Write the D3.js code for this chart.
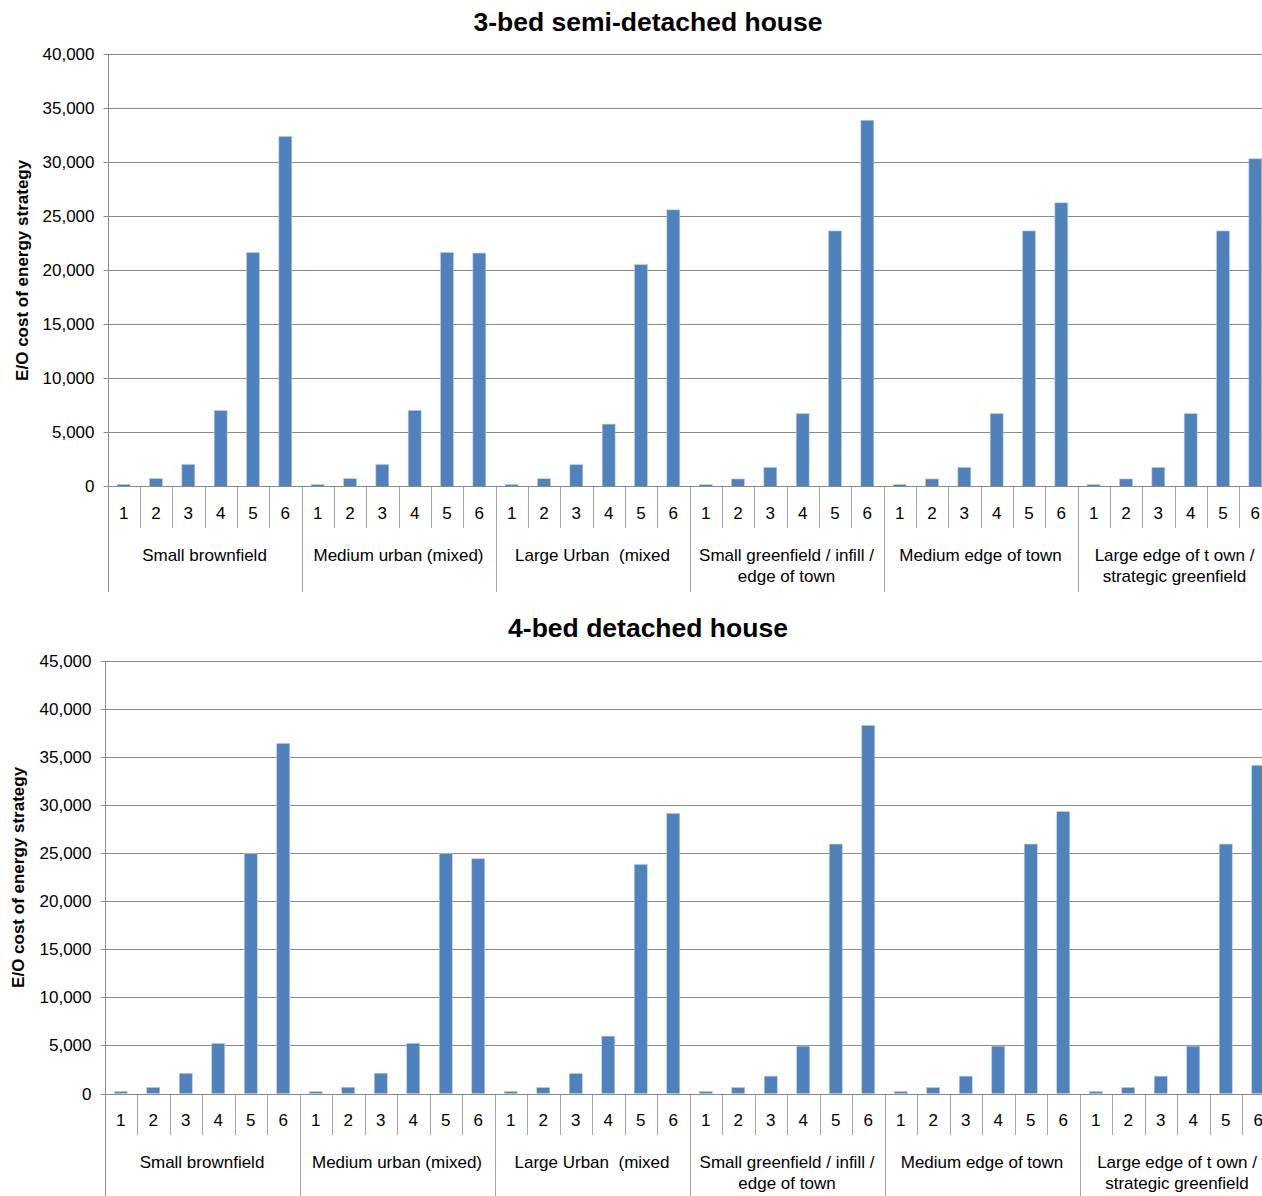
<!DOCTYPE html>
<html>
<head>
<meta charset="utf-8">
<script src="https://cdn.jsdelivr.net/npm/d3@7"></script>
<style>
  html, body { margin: 0; padding: 0; background: #fff; }
  svg { display: block; font-family: "Liberation Sans", Arial, sans-serif; }
  text { white-space: pre; }
</style>
</head>
<body>
<svg id="chart" width="1262" height="1196"></svg>
<script>
// Site typologies along the category axis (label lines as drawn under each group)
const categories = [
  "Small brownfield",
  "Medium urban (mixed)",
  "Large Urban  (mixed",
  "Small greenfield / infill / edge of town",
  "Medium edge of town",
  "Large edge of t own / strategic greenfield"
];
const categoryLines = [
  ["Small brownfield"],
  ["Medium urban (mixed)"],
  ["Large Urban  (mixed"],
  ["Small greenfield / infill /", "edge of town"],
  ["Medium edge of town"],
  ["Large edge of t own /", "strategic greenfield"]
];
// Energy strategy options within each typology
const strategies = ["1", "2", "3", "4", "5", "6"];

// Extra-over cost of energy strategy, 3-bed semi-detached house (one row per typology)
const semiDetached3Bed = [
  [170, 710, 2020, 7010, 21650, 32400],
  [160, 710, 2020, 7020, 21650, 21600],
  [155, 700, 2000, 5760, 20530, 25600],
  [155, 680, 1760, 6730, 23650, 33900],
  [155, 680, 1760, 6730, 23650, 26250],
  [155, 680, 1760, 6730, 23650, 30330]
];
// Extra-over cost of energy strategy, 4-bed detached house
const detached4Bed = [
  [210, 630, 2100, 5210, 25000, 36450],
  [190, 650, 2110, 5230, 25000, 24440],
  [208, 625, 2080, 5970, 23850, 29170],
  [208, 625, 1806, 4930, 25970, 38330],
  [208, 625, 1806, 4930, 25970, 29340],
  [208, 625, 1806, 4930, 25970, 34170]
];

// Y-axis tick values
const ticksSemi = [0, 5000, 10000, 15000, 20000, 25000, 30000, 35000, 40000];
const ticksDetached = [0, 5000, 10000, 15000, 20000, 25000, 30000, 35000, 40000, 45000];

const titles = ["3-bed semi-detached house", "4-bed detached house"];
const yLabel = "E/O cost of energy strategy";

const svg = d3.select("#chart");
svg.append("rect").attr("width", 1262).attr("height", 1196).attr("fill", "#fff");

const fmt = d3.format(",");

function drawPanel(opts) {
  const { values, ticks, title, left, right, top, bottom, titleY, labelX,
          numY, groupY, sepShortEnd, sepLongEnd } = opts;
  const g = svg.append("g");

  const x = d3.scaleBand().domain(categories).range([left, right]).padding(0);
  const xi = d3.scaleBand().domain(strategies).range([0, x.bandwidth()])
    .paddingInner(0.6).paddingOuter(0.3);
  const y = d3.scaleLinear().domain([0, d3.max(ticks)]).range([bottom, top]);

  // horizontal gridlines
  g.append("g").selectAll("line").data(ticks).join("line")
    .attr("x1", left).attr("x2", 1262)
    .attr("y1", d => Math.round(y(d)) + 0.5).attr("y2", d => Math.round(y(d)) + 0.5)
    .attr("stroke", "#8a8a8a").attr("stroke-width", 1);

  // value axis with outward tick marks
  const axis = g.append("g")
    .attr("transform", `translate(${Math.round(left) + 0.5},0)`)
    .call(d3.axisLeft(y).tickValues(ticks).tickFormat(fmt).tickSize(5).tickPadding(9));
  axis.select(".domain").remove();
  axis.selectAll(".tick").attr("transform", d => `translate(0,${Math.round(y(d)) + 0.5})`);
  axis.selectAll(".tick line").attr("stroke", "#8a8a8a");
  axis.selectAll(".tick text").attr("font-size", 17).attr("fill", "#000")
    .attr("font-family", "Liberation Sans, Arial, sans-serif");
  g.append("line")
    .attr("x1", Math.round(left) + 0.5).attr("x2", Math.round(left) + 0.5)
    .attr("y1", Math.round(y(d3.max(ticks)))).attr("y2", sepLongEnd)
    .attr("stroke", "#8a8a8a");

  // bars
  const bars = [];
  categories.forEach((c, ci) => strategies.forEach((s, si) => {
    bars.push({ c, s, v: values[ci][si] });
  }));
  g.append("g").selectAll("rect").data(bars).join("rect")
    .attr("x", d => x(d.c) + xi(d.s))
    .attr("width", xi.bandwidth())
    .attr("y", d => y(d.v))
    .attr("height", d => bottom - y(d.v))
    .attr("fill", "#4f81bd")
    .attr("stroke", "#b9cde5").attr("stroke-width", 0.6);

  // category axis: slot separators, group separators, labels
  const slotEdges = [];
  categories.forEach(c => strategies.forEach((s, si) => {
    if (si > 0) slotEdges.push(x(c) + si * xi.step());
  }));
  g.append("g").selectAll("line").data(slotEdges).join("line")
    .attr("x1", d => Math.round(d) + 0.5).attr("x2", d => Math.round(d) + 0.5)
    .attr("y1", Math.round(bottom)).attr("y2", sepShortEnd)
    .attr("stroke", "#a6a6a6");
  g.append("g").selectAll("line").data(categories.slice(1)).join("line")
    .attr("x1", d => Math.round(x(d)) + 0.5).attr("x2", d => Math.round(x(d)) + 0.5)
    .attr("y1", Math.round(bottom)).attr("y2", sepLongEnd)
    .attr("stroke", "#a6a6a6");
  g.append("line").attr("x1", left).attr("x2", 1262)
    .attr("y1", Math.round(bottom) + 0.5).attr("y2", Math.round(bottom) + 0.5)
    .attr("stroke", "#8a8a8a");

  g.append("g").selectAll("text").data(bars).join("text")
    .attr("x", d => x(d.c) + xi(d.s) + xi.bandwidth() / 2)
    .attr("y", numY)
    .attr("text-anchor", "middle").attr("dominant-baseline", "central")
    .attr("font-size", 17).attr("fill", "#000")
    .text(d => d.s);

  categories.forEach((c, ci) => {
    categoryLines[ci].forEach((line, li) => {
      g.append("text")
        .attr("x", x(c) + x.bandwidth() / 2)
        .attr("y", groupY + li * 21.5)
        .attr("text-anchor", "middle").attr("dominant-baseline", "central")
        .attr("font-size", 17).attr("fill", "#000")
        .text(line);
    });
  });

  // titles
  g.append("text").attr("x", 648).attr("y", titleY)
    .attr("text-anchor", "middle").attr("dominant-baseline", "central")
    .attr("font-size", 26.5).attr("font-weight", "bold").attr("fill", "#000")
    .text(title);
  g.append("text")
    .attr("transform", `translate(${labelX},${(top + bottom) / 2}) rotate(-90)`)
    .attr("text-anchor", "middle").attr("dominant-baseline", "central")
    .attr("font-size", 17).attr("font-weight", "bold").attr("fill", "#000")
    .text(yLabel);
}

drawPanel({
  values: semiDetached3Bed, ticks: ticksSemi, title: titles[0],
  left: 107.5, right: 1271.5, top: 54.4, bottom: 486.3,
  titleY: 22, labelX: 22, numY: 513, groupY: 555, sepShortEnd: 528, sepLongEnd: 592
});
drawPanel({
  values: detached4Bed, ticks: ticksDetached, title: titles[1],
  left: 104.5, right: 1274.5, top: 661.3, bottom: 1093.5,
  titleY: 628, labelX: 18, numY: 1120, groupY: 1162, sepShortEnd: 1135, sepLongEnd: 1196
});
</script>
</body>
</html>
